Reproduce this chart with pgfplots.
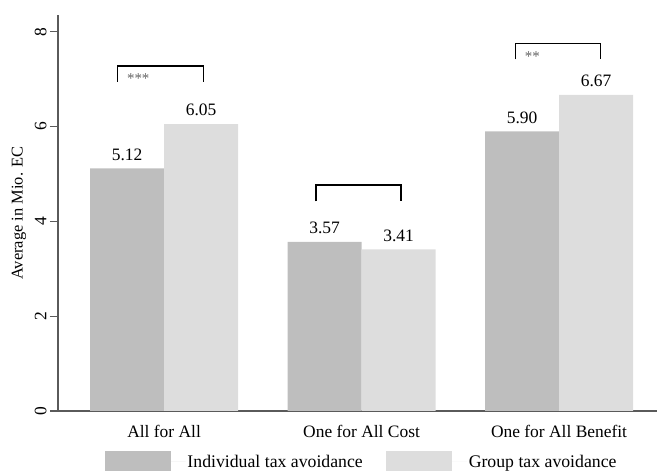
\documentclass[border=0pt]{standalone}
\usepackage{fontspec}
\setmainfont{Liberation Serif}
\usepackage{pgfplots}
\pgfplotsset{compat=1.18}

\definecolor{indiv}{RGB}{190,190,190}
\definecolor{grp}{RGB}{221,221,221}
\definecolor{axisgray}{RGB}{90,90,90}
\definecolor{stargray}{RGB}{100,100,100}
\newcommand{\lab}{\fontsize{17.5}{20}\selectfont}

\begin{document}
\begin{tikzpicture}
\begin{axis}[
  at={(0,0)}, anchor=south west,
  scale only axis, width=599bp, height=396bp,
  xmin=0.463, xmax=3.496, ymin=0, ymax=8.355,
  ybar=0pt, bar width=74bp,
  axis x line*=bottom, axis y line*=left,
  axis line style={axisgray, line width=1.2bp, -},
  xtick={1,2,3},
  xticklabels={All for All, One for All Cost, One for All Benefit},
  x tick label style={font=\lab, yshift=-3bp},
  major x tick style={draw=none},
  ytick={0,2,4,6,8}, ytick pos=left,
  y tick label style={font=\lab, rotate=90, anchor=south},
  major y tick style={axisgray, line width=1.2bp},
  tick align=outside, major tick length=8bp,
  /pgf/number format/assume math mode=true,
  ylabel={Average in Mio. EC},
  every axis y label/.style={at={(axis description cs:0,0.5)}, xshift=-39bp,
    rotate=90, anchor=center, font=\fontsize{16.5}{19}\selectfont},
  nodes near coords,
  nodes near coords style={font=\lab, yshift=4.5bp,
    /pgf/number format/.cd, fixed, fixed zerofill, precision=2, assume math mode=true},
  legend style={draw=none, fill=none, font=\fontsize{17.8}{20}\selectfont,
    at={(axis description cs:0.5,0)}, anchor=north, xshift=4bp, yshift=-37.5bp,
    legend columns=2, legend cell align=left,
    /tikz/every even column/.append style={column sep=21bp}},
  legend image code/.code={\fill[#1, draw=none] (0bp,-11bp) rectangle (66bp,11bp);
    \path (66bp,0bp) -- (81bp,0bp);},
]
\addplot[fill=indiv, draw=none] coordinates {(1,5.12) (2,3.57) (3,5.90)};
\addplot[fill=grp, draw=none] coordinates {(1,6.05) (2,3.41) (3,6.67)};
\legend{Individual tax avoidance, Group tax avoidance}

% significance brackets
\draw[black, line width=1.3bp] (axis cs:0.766,6.95) |- (axis cs:1.199,7.28) -- (axis cs:1.199,6.95);
\draw[black, line width=1.3bp] (axis cs:1.770,4.42) |- (axis cs:2.200,4.77) -- (axis cs:2.200,4.42);
\draw[black, line width=1.3bp] (axis cs:2.780,7.42) |- (axis cs:3.210,7.76) -- (axis cs:3.210,7.42);
\node[anchor=north west, inner sep=0pt, xshift=9bp, yshift=-8bp, text=stargray,
  font=\fontsize{15}{18}\selectfont] at (axis cs:0.766,7.28) {***};
\node[anchor=north west, inner sep=0pt, xshift=9bp, yshift=-8bp, text=stargray,
  font=\fontsize{15}{18}\selectfont] at (axis cs:2.780,7.76) {**};
\end{axis}
\pgfresetboundingbox
\path[use as bounding box] (current axis.south west) ++(-58bp,-60bp) rectangle ([yshift=15bp]current axis.north east);
\end{tikzpicture}
\end{document}
